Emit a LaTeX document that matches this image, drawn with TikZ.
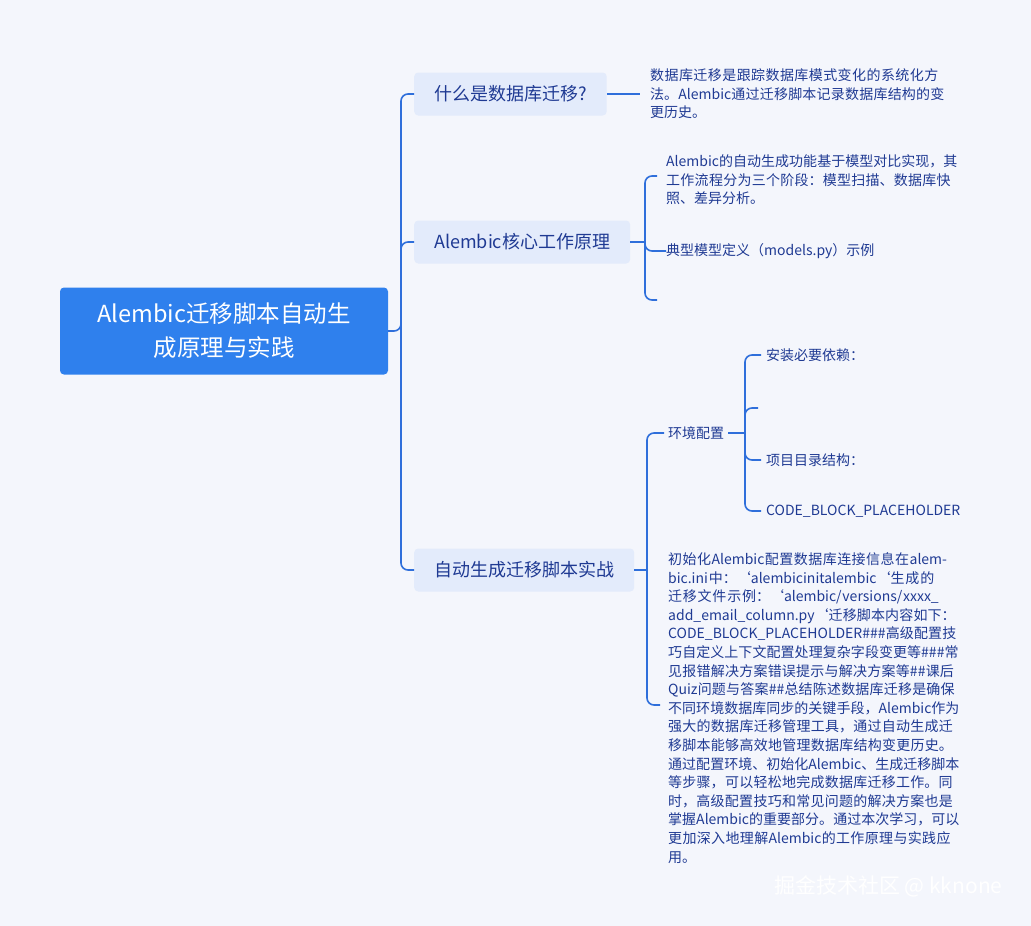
\documentclass[tikz,border=0pt]{standalone}
\usepackage{fontspec}
\setmainfont{Noto Sans CJK SC}
\XeTeXlinebreaklocale "zh"
\XeTeXlinebreakskip=0pt plus 1pt
\usetikzlibrary{positioning}
\definecolor{bgc}{HTML}{F4F6FC}
\definecolor{rootc}{HTML}{2F80ED}
\definecolor{boxc}{HTML}{E3EBFB}
\definecolor{linec}{HTML}{2F6FDB}
\definecolor{txtc}{HTML}{1F3A93}
\newcommand{\LF}{\fontsize{14}{18.6}\selectfont}
\newcommand{\BF}{\fontsize{18}{20}\selectfont}
\newcommand{\bq}{{\char"60}}
\tikzset{
    rootbox/.style={fill=rootc,rounded corners=4pt,text=white,align=center,minimum width=328pt,minimum height=87pt,font=\fontsize{23.5}{34}\selectfont},
    branchbox/.style={fill=boxc,rounded corners=4pt,text=txtc,anchor=west,minimum height=43pt,inner xsep=20pt,font=\BF},
    leaf/.style={text=txtc,anchor=west,align=left,inner sep=0pt,font=\LF},
    link/.style={linec,line width=1.6pt,rounded corners=7pt}
}
\begin{document}
\begin{tikzpicture}[x=1pt,y=-1pt]
    \fill[bgc] (0,0) rectangle (1031,926);
    \useasboundingbox (0,0) rectangle (1031,926);

    % root and branches
    \node[rootbox] (root) at (224,331) {Alembic迁移脚本自动生\\成原理与实践};
    \node[branchbox] (b1) at (414,94) {什么是数据库迁移?};
    \node[branchbox] (b2) at (414,242) {Alembic核心工作原理};
    \node[branchbox] (b3) at (414,570) {自动生成迁移脚本实战};
    \coordinate (t0) at (401,331);
    \draw[link] (root.east) -- (t0) |- (b1.west);
    \draw[link] (t0) |- (b2.west);
    \draw[link] (t0) |- (b3.west);

    % branch 1
    \node[leaf,text width=300pt] (l1) at (650,94) {数据库迁移是跟踪数据库模式变化的系统化方法。Alembic通过迁移脚本记录数据库结构的变更历史。};
    \draw[link] (b1.east) -- (640,94);

    % branch 2
    \node[leaf,text width=292pt] (l2a) at (666,180) {Alembic的自动生成功能基于模型对比实现，其工作流程分为三个阶段：模型扫描、数据库快照、差异分析。};
    \node[leaf] (l2b) at (666,251) {典型模型定义（models.py）示例};
    \coordinate (k2) at (645,242);
    \coordinate (e2) at (657,300);
    \draw[link] (b2.east) -- (k2);
    \draw[link] (k2) |- (657,176);
    \draw[link] (k2) |- (l2b.west);
    \draw[link] (k2) |- (e2);

    % branch 3
    \node[leaf] (l3a) at (668,433) {环境配置};
    \node[leaf,text width=292pt] (l3b) at (668,708) {初始化Alembic配置数据库连接信息在alembic.ini中：\bq alembicinitalembic\bq 生成的迁移文件示例：\bq alembic/versions/xxxx\_ add\_email\_column.py\bq 迁移脚本内容如下：CODE\_BLOCK\_PLACEHOLDER\#\#\#高级配置技巧自定义上下文配置处理复杂字段变更等\#\#\#常见报错解决方案错误提示与解决方案等\#\#课后Quiz问题与答案\#\#总结陈述数据库迁移是确保不同环境数据库同步的关键手段，Alembic作为强大的数据库迁移管理工具，通过自动生成迁移脚本能够高效地管理数据库结构变更历史。通过配置环境、初始化Alembic、生成迁移脚本等步骤，可以轻松地完成数据库迁移工作。同时，高级配置技巧和常见问题的解决方案也是掌握Alembic的重要部分。通过本次学习，可以更加深入地理解Alembic的工作原理与实践应用。};
    \coordinate (k3) at (647,570);
    \draw[link] (b3.east) -- (k3);
    \draw[link] (k3) |- ([xshift=-4pt]l3a.west);
    \draw[link] (k3) |- (660,705);

    % sub-branch 环境配置
    \node[leaf] (s1) at (766,355) {安装必要依赖：};
    \node[leaf] (s3) at (766,460) {项目目录结构：};
    \node[leaf] (s4) at (766,511) {CODE\_BLOCK\_PLACEHOLDER};
    \coordinate (k4) at (745,433);
    \draw[link] ([xshift=4pt]l3a.east) -- (k4);
    \draw[link] (k4) |- ([xshift=-5pt]s1.west);
    \draw[link] (k4) |- (758,408);
    \draw[link] (k4) |- ([xshift=-5pt]s3.west);
    \draw[link] (k4) |- ([xshift=-5pt]s4.west);

    % watermark
    \node[text=white,anchor=east,font=\fontsize{21}{24}\selectfont] (wm) at (1006,886) {掘金技术社区 @ kknone};
\end{tikzpicture}
\end{document}
